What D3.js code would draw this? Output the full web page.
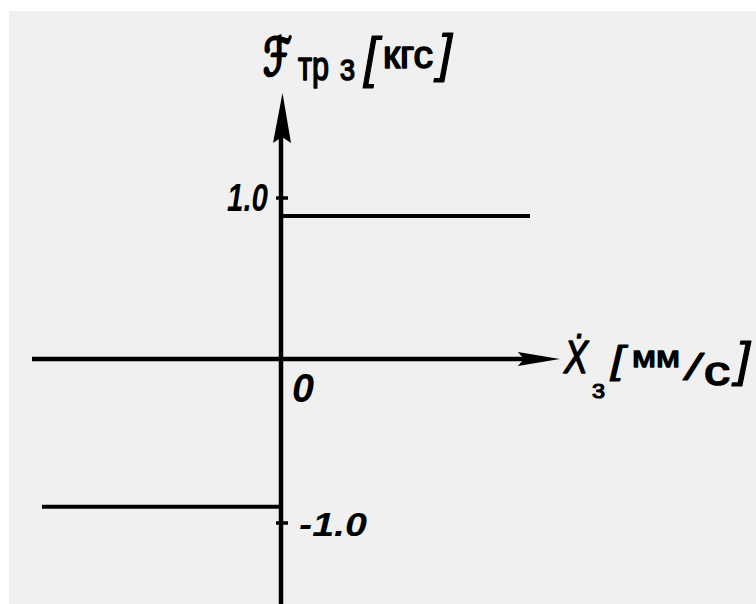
<!DOCTYPE html>
<html>
<head>
<meta charset="utf-8">
<script src="https://cdn.jsdelivr.net/npm/d3@7"></script>
<style>
  html, body { margin: 0; padding: 0; background: #ffffff; }
  svg { display: block; }
  text { font-family: "Liberation Sans", "DejaVu Sans", sans-serif; font-style: italic; fill: #000; }
</style>
</head>
<body>
<svg id="chart" width="756" height="604"></svg>
<script>
// Dry (Coulomb) friction force of body 3 versus its velocity: a step at zero.
const velocityRanges = [[-0.96, 0], [0, 1.0]];   // velocity spans of each branch
const frictionLevels = [-0.9, 0.89];             // friction force on each branch, kgf
const tickValues = [1.0, -1.0];
const tickLabels = ["1.0", "-1.0"];
const originLabel = "0";

const W = 756, H = 604;
const svg = d3.select("#chart");

// paper
svg.append("rect").attr("x", 9).attr("y", 11).attr("width", W - 9).attr("height", H - 11)
  .attr("fill", "#f0f0f0");

const x = d3.scaleLinear().domain([-1, 1]).range([32, 530]);
const y = d3.scaleLinear().domain([-1, 1]).range([523, 198]);

const x0 = x(0), y0 = y(0) - 1.5;
const xAxisEnd = x(1.12);
const yAxisTop = y(1.646);

// horizontal axis with arrow
svg.append("line").attr("x1", x(-1)).attr("x2", xAxisEnd - 30).attr("y1", y0).attr("y2", y0)
  .attr("stroke", "#000").attr("stroke-width", 4.5);
svg.append("path")
  .attr("d", `M${xAxisEnd},${y0} L${xAxisEnd - 42},${y0 - 7} L${xAxisEnd - 36},${y0} L${xAxisEnd - 42},${y0 + 7} Z`)
  .attr("fill", "#000");

// vertical axis with arrow
svg.append("line").attr("x1", x0).attr("x2", x0).attr("y1", yAxisTop + 40).attr("y2", H)
  .attr("stroke", "#000").attr("stroke-width", 4.5);
svg.append("path")
  .attr("d", `M${x0 + 1.5},${yAxisTop} L${x0 - 8},${yAxisTop + 50} L${x0 + 1},${yAxisTop + 44} L${x0 + 10},${yAxisTop + 50} Z`)
  .attr("fill", "#000");

// ticks and their labels (1.0 on the left of the axis, -1.0 on the right)
const ticks = tickValues.map((v, i) => ({ v, label: tickLabels[i], side: v > 0 ? -1 : 1 }));
svg.selectAll("line.tick").data(ticks).join("line").attr("class", "tick")
  .attr("x1", x0 - 5).attr("x2", x0 + 7)
  .attr("y1", d => y(d.v)).attr("y2", d => y(d.v))
  .attr("stroke", "#000").attr("stroke-width", 3.5);
svg.selectAll("text.tick").data(ticks).join("text").attr("class", "tick")
  .attr("x", d => d.side < 0 ? x0 - 13 : x0 + 18)
  .attr("y", d => y(d.v) + 13)
  .attr("text-anchor", d => d.side < 0 ? "end" : "start")
  .attr("font-size", d => d.side < 0 ? 38 : 34)
  .attr("font-weight", "bold")
  .attr("textLength", d => d.side < 0 ? 41 : 68)
  .attr("lengthAdjust", "spacingAndGlyphs")
  .text(d => d.label);

svg.append("text").attr("x", x0 + 11).attr("y", y0 + 43)
  .attr("font-size", 40).attr("font-weight", "bold")
  .attr("textLength", 22).attr("lengthAdjust", "spacingAndGlyphs")
  .text(originLabel);

// friction branches
svg.selectAll("line.branch").data(velocityRanges).join("line").attr("class", "branch")
  .attr("x1", d => x(d[0])).attr("x2", d => x(d[1]))
  .attr("y1", (d, i) => y(frictionLevels[i])).attr("y2", (d, i) => y(frictionLevels[i]))
  .attr("stroke", "#000").attr("stroke-width", 4);

// an axis title is one text element built from lettering pieces;
// each piece is fitted to a width, and a stroke thickens the glyphs
function title(pieces) {
  const t = svg.append("text").attr("stroke", "#000").attr("stroke-linejoin", "round");
  pieces.forEach(p => {
    const s = t.append("tspan").attr("x", p.x).attr("y", p.y).attr("font-size", p.size)
      .style("font-style", p.upright ? "normal" : "italic")
      .attr("stroke-width", p.stroke == null ? 1.4 : p.stroke)
      .text(p.t);
    if (p.len) s.attr("textLength", p.len).attr("lengthAdjust", "spacingAndGlyphs");
  });
  return t;
}

// vertical axis title: script F (narrowed), then тр3 [кгс]
svg.append("text")
  .attr("transform", "translate(263,75) scale(0.7,1)")
  .attr("font-size", 52).style("font-style", "normal")
  .style("font-family", "'DejaVu Serif', 'DejaVu Sans', serif")
  .attr("stroke", "#000").attr("stroke-width", 3).attr("stroke-linejoin", "round")
  .text("\u2131");
title([
  { t: "тр", x: 298, y: 80, size: 40, len: 31, upright: true, stroke: 1.6 },
  { t: "3", x: 340, y: 80, size: 30, len: 15, upright: true, stroke: 1.6 },
  { t: "[", x: 364, y: 76, size: 56, len: 14, stroke: 1.2 },
  { t: "кгс", x: 383, y: 68, size: 38, len: 50, upright: true, stroke: 1.6 },
  { t: "]", x: 438, y: 71, size: 52, len: 14, stroke: 1.2 }
]);

// horizontal axis title: Ẋ3 [мм/с]
title([
  { t: "\u1E8A", x: 564, y: 373, size: 46, len: 24, stroke: 1.4 },
  { t: "3", x: 592, y: 398, size: 20, len: 13, upright: true, stroke: 1.2 },
  { t: "[", x: 611, y: 373, size: 38, len: 13, stroke: 1.2 },
  { t: "мм", x: 632, y: 367, size: 29, len: 48, upright: true, stroke: 1.3 },
  { t: "/", x: 686, y: 380, size: 36, len: 14, stroke: 1.2 },
  { t: "с", x: 704, y: 385, size: 40, len: 26, upright: true, stroke: 1.6 },
  { t: "]", x: 736, y: 376, size: 48, len: 14, stroke: 1.2 }
]);
</script>
</body>
</html>
